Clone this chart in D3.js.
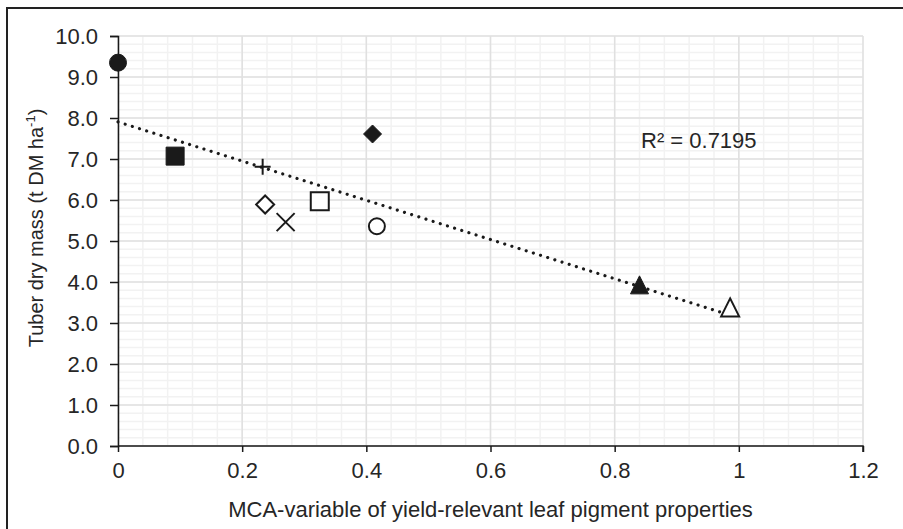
<!DOCTYPE html>
<html>
<head>
<meta charset="utf-8">
<script src="https://cdn.jsdelivr.net/npm/d3@7"></script>
<style>
  html, body { margin: 0; padding: 0; background: #fff; }
  svg { display: block; }
  text { font-family: "Liberation Sans", Arial, sans-serif; fill: #262626; }
</style>
</head>
<body>
<svg id="chart" width="903" height="529"></svg>
<script>
// ---- data ----
const mcaX    = [0, 0.092, 0.233, 0.237, 0.270, 0.325, 0.410, 0.417, 0.840, 0.986];
const tuberDM = [9.35, 7.07, 6.81, 5.89, 5.46, 5.97, 7.61, 5.36, 3.93, 3.38];
const markerTypes = ["circleFilled", "squareFilled", "plus", "diamondOpen", "cross",
                     "squareOpen", "diamondFilled", "circleOpen", "triangleFilled", "triangleOpen"];
const xTickValues = [0, 0.2, 0.4, 0.6, 0.8, 1, 1.2];
const yTickValues = [0, 1, 2, 3, 4, 5, 6, 7, 8, 9, 10];
const xTitle = "MCA-variable of yield-relevant leaf pigment properties";
const r2Label = "R² = 0.7195";

// ---- layout ----
const svg = d3.select("#chart");
const plot = { left: 118, right: 863, top: 36, bottom: 446 };
const x = d3.scaleLinear().domain([0, 1.2]).range([plot.left, plot.right]);
const y = d3.scaleLinear().domain([0, 10]).range([plot.bottom, plot.top]);
const ink = "#1a1a1a";

// outer border (right/bottom edges lie outside the frame)
svg.append("rect").attr("x", 7).attr("y", 8).attr("width", 920).attr("height", 540)
  .attr("fill", "none").attr("stroke", "#222").attr("stroke-width", 2);

// minor grid
const g = svg.append("g");
g.selectAll(".vminor").data(d3.range(0, 31).map(i => i * 0.04)).join("line")
  .attr("x1", d => x(d)).attr("x2", d => x(d)).attr("y1", plot.top).attr("y2", plot.bottom)
  .attr("stroke", "#f2f2f2").attr("stroke-width", 1.5);
g.selectAll(".hminor").data(d3.range(0, 51).map(i => i * 0.2)).join("line")
  .attr("y1", d => y(d)).attr("y2", d => y(d)).attr("x1", plot.left).attr("x2", plot.right)
  .attr("stroke", "#f2f2f2").attr("stroke-width", 1.5);
// major grid
g.selectAll(".vmajor").data(xTickValues).join("line")
  .attr("x1", d => x(d)).attr("x2", d => x(d)).attr("y1", plot.top).attr("y2", plot.bottom)
  .attr("stroke", "#e0e0e0").attr("stroke-width", 1.5);
g.selectAll(".hmajor").data(yTickValues).join("line")
  .attr("y1", d => y(d)).attr("y2", d => y(d)).attr("x1", plot.left).attr("x2", plot.right)
  .attr("stroke", "#e0e0e0").attr("stroke-width", 1.5);

// axes
const xAxis = d3.axisBottom(x).tickValues(xTickValues).tickSize(6).tickPadding(10)
  .tickFormat(d => d3.format("~g")(d));
const yAxis = d3.axisLeft(y).tickValues(yTickValues).tickSize(8).tickPadding(12)
  .tickFormat(d3.format(".1f"));
const gx = svg.append("g").attr("transform", `translate(0,${plot.bottom})`).call(xAxis);
const gy = svg.append("g").attr("transform", `translate(${plot.left},0)`).call(yAxis);
[gx, gy].forEach(a => {
  a.select(".domain").attr("stroke", ink).attr("stroke-width", 1.5);
  a.selectAll(".tick line").attr("stroke", ink).attr("stroke-width", 1.5);
  a.selectAll(".tick text").attr("font-size", 22).attr("fill", "#262626")
    .attr("font-family", "Liberation Sans, Arial, sans-serif");
});
gx.select(".domain").attr("d", `M${plot.left},0H${plot.right}V6`);

// axis titles
svg.append("text").attr("x", (plot.left + plot.right) / 2).attr("y", 517)
  .attr("text-anchor", "middle").attr("font-size", 22).text(xTitle);
const yt = svg.append("text").attr("transform", "translate(43,228) rotate(-90)")
  .attr("text-anchor", "middle").attr("font-size", 20);
yt.append("tspan").text("Tuber dry mass (t DM ha");
yt.append("tspan").attr("font-size", 13).attr("dy", -8).text("-1");
yt.append("tspan").attr("dy", 8).text(")");

// trend line (least squares on the data)
const mx = d3.mean(mcaX), my = d3.mean(tuberDM);
const slope = d3.sum(mcaX, (v, i) => (v - mx) * (tuberDM[i] - my)) / d3.sum(mcaX, v => (v - mx) ** 2);
const icpt = my - slope * mx;
const x0 = d3.min(mcaX), x1 = d3.max(mcaX);
svg.append("line")
  .attr("x1", x(x0)).attr("y1", y(icpt + slope * x0))
  .attr("x2", x(x1)).attr("y2", y(icpt + slope * x1))
  .attr("stroke", ink).attr("stroke-width", 3.2)
  .attr("stroke-linecap", "round").attr("stroke-dasharray", "0.01 7.5");

// markers
const S = 18; // marker box size
function markerPath(type) {
  const h = S / 2;
  switch (type) {
    case "squareFilled": case "squareOpen":
      return `M${-h},${-h}H${h}V${h}H${-h}Z`;
    case "diamondFilled": case "diamondOpen":
      return `M0,${-h}L${h},0L0,${h}L${-h},0Z`;
    case "triangleFilled": case "triangleOpen":
      return `M0,${-h}L${h},${h}H${-h}Z`;
    case "plus":
      return `M${-h + 1},0H${h - 1}M0,${-h + 1}V${h - 1}`;
    case "cross":
      return `M${-h},${-h}L${h},${h}M${h},${-h}L${-h},${h}`;
  }
  return null;
}
const pts = svg.append("g");
mcaX.forEach((xv, i) => {
  const t = markerTypes[i];
  const filled = t.endsWith("Filled");
  const cx = x(xv), cy = y(tuberDM[i]);
  if (t.startsWith("circle")) {
    pts.append("circle").attr("cx", cx).attr("cy", cy)
      .attr("r", filled ? 8.5 : 8)
      .attr("fill", filled ? ink : "#fff").attr("stroke", ink).attr("stroke-width", filled ? 1 : 2);
  } else {
    pts.append("path").attr("d", markerPath(t))
      .attr("transform", `translate(${cx},${cy})`)
      .attr("fill", filled ? ink : (t === "plus" || t === "cross" ? "none" : "#fff"))
      .attr("stroke", ink).attr("stroke-width", filled ? 1 : 2)
      .attr("stroke-linejoin", "miter");
  }
});

// R² label
svg.append("text").attr("x", 641).attr("y", 148).attr("font-size", 22).text(r2Label);
</script>
</body>
</html>
